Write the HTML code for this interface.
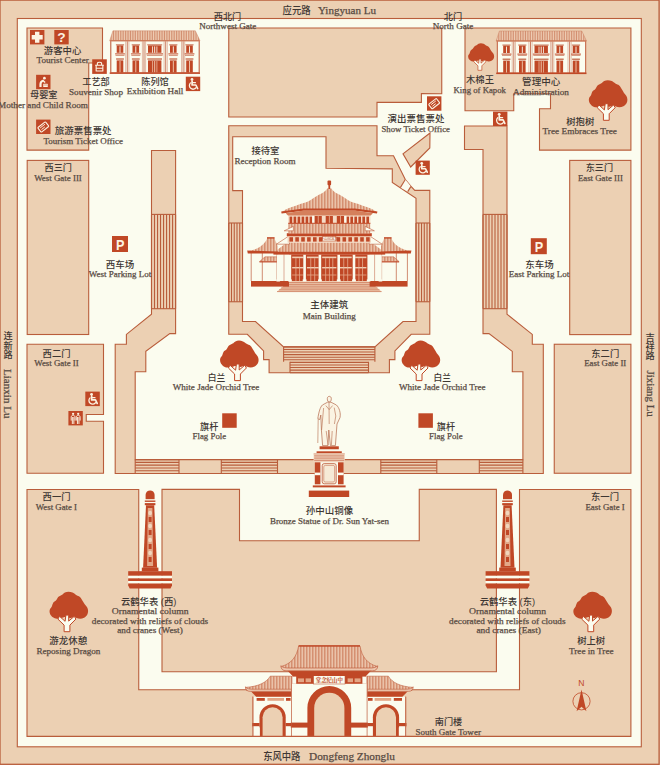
<!DOCTYPE html>
<html lang="zh"><head><meta charset="utf-8"><title>Map</title>
<style>
html,body{margin:0;padding:0;background:#ecd0b3;}
svg{display:block}
text.c{font-family:"Liberation Sans","Noto Sans CJK SC",sans-serif;font-weight:500;text-anchor:middle}
text.l{font-family:"Liberation Serif","Noto Serif CJK SC",serif;text-anchor:middle;stroke:#574a42;stroke-width:0.25px}
</style></head><body>
<svg width="660" height="765" viewBox="0 0 660 765">
<rect x="0" y="0" width="660" height="765" fill="#ecd0b3"/>
<rect x="0.00" y="0.10" width="659.10" height="764.20" fill="none" stroke="#b95d3b" stroke-width="1.3"/>
<rect x="17.30" y="18.50" width="624.00" height="728.30" fill="#fbfcef" stroke="#b95d3b" stroke-width="1.1"/>
<path d="M27.00 28.00 L102.50 28.00 L102.50 63.00 L88.75 63.00 L88.70 150.10 L27.00 150.10Z" fill="#ecd0b3" stroke="#b95d3b" stroke-width="1.1" />
<rect x="27.20" y="160.40" width="61.50" height="174.10" fill="#ecd0b3" stroke="#b95d3b" stroke-width="1.1"/>
<path d="M27.00 344.25 L103.50 344.25 L103.50 414.50 L86.25 414.50 L86.25 421.25 L103.50 421.25 L103.50 473.25 L27.00 473.25Z" fill="#ecd0b3" stroke="#b95d3b" stroke-width="1.1" />
<path d="M27.00 489.50 L138.75 489.50 L138.75 689.80 L519.50 689.80 L519.50 489.50 L630.90 489.50 L630.90 736.40 L27.00 736.40Z" fill="#ecd0b3" stroke="#b95d3b" stroke-width="1.1" />
<path d="M162.00 489.40 L239.50 489.40 L239.50 540.75 L419.25 540.75 L419.25 489.40 L496.40 489.40 L496.40 671.70 L162.00 671.70Z" fill="#ecd0b3" stroke="#b95d3b" stroke-width="1.1" />
<path d="M228.75 28.00 L441.75 28.00 L441.75 93.75 L421.40 93.50 L421.40 102.40 L377.00 102.40 L377.00 116.90 L228.75 117.00Z" fill="#ecd0b3" stroke="#b95d3b" stroke-width="1.1" />
<path d="M465.00 28.00 L630.90 28.00 L630.90 150.10 L539.50 150.10 L539.50 108.75 L550.50 108.75 L550.50 93.75 L513.75 93.75 L513.75 110.75 L465.00 110.75Z" fill="#ecd0b3" stroke="#b95d3b" stroke-width="1.1" />
<rect x="569.70" y="160.40" width="61.20" height="174.20" fill="#ecd0b3" stroke="#b95d3b" stroke-width="1.1"/>
<rect x="554.25" y="344.25" width="76.65" height="129.00" fill="#ecd0b3" stroke="#b95d3b" stroke-width="1.1"/>
<path d="M151.50 150.50 L151.50 314.20 L126.40 334.40 L126.40 344.20 L115.20 344.20 L115.20 473.50 L543.30 473.50 L543.30 344.20 L532.30 344.20 L532.30 334.40 L507.00 314.20 L507.00 126.00 L464.50 126.00 L464.50 149.50 L483.00 149.50 L483.00 333.60 L489.00 333.60 L512.30 351.40 L512.30 371.70 L522.90 371.70 L522.90 459.60 L135.20 459.60 L135.20 371.70 L145.80 371.70 L145.80 351.40 L169.80 333.60 L175.60 333.60 L175.60 150.50Z" fill="#ecd0b3" stroke="#b95d3b" stroke-width="1.1" />
<line x1="151.50" y1="214.40" x2="151.50" y2="308.70" stroke="#b95d3b" stroke-width="1.1"/>
<line x1="154.51" y1="214.40" x2="154.51" y2="308.70" stroke="#b95d3b" stroke-width="1.1"/>
<line x1="157.53" y1="214.40" x2="157.53" y2="308.70" stroke="#b95d3b" stroke-width="1.1"/>
<line x1="160.54" y1="214.40" x2="160.54" y2="308.70" stroke="#b95d3b" stroke-width="1.1"/>
<line x1="163.55" y1="214.40" x2="163.55" y2="308.70" stroke="#b95d3b" stroke-width="1.1"/>
<line x1="166.56" y1="214.40" x2="166.56" y2="308.70" stroke="#b95d3b" stroke-width="1.1"/>
<line x1="169.57" y1="214.40" x2="169.57" y2="308.70" stroke="#b95d3b" stroke-width="1.1"/>
<line x1="172.59" y1="214.40" x2="172.59" y2="308.70" stroke="#b95d3b" stroke-width="1.1"/>
<line x1="175.60" y1="214.40" x2="175.60" y2="308.70" stroke="#b95d3b" stroke-width="1.1"/>
<line x1="151.50" y1="214.40" x2="175.60" y2="214.40" stroke="#b95d3b" stroke-width="1.1"/>
<line x1="151.50" y1="308.70" x2="175.60" y2="308.70" stroke="#b95d3b" stroke-width="1.1"/>
<line x1="483.00" y1="214.40" x2="483.00" y2="308.70" stroke="#b95d3b" stroke-width="1.1"/>
<line x1="486.00" y1="214.40" x2="486.00" y2="308.70" stroke="#b95d3b" stroke-width="1.1"/>
<line x1="489.00" y1="214.40" x2="489.00" y2="308.70" stroke="#b95d3b" stroke-width="1.1"/>
<line x1="492.00" y1="214.40" x2="492.00" y2="308.70" stroke="#b95d3b" stroke-width="1.1"/>
<line x1="495.00" y1="214.40" x2="495.00" y2="308.70" stroke="#b95d3b" stroke-width="1.1"/>
<line x1="498.00" y1="214.40" x2="498.00" y2="308.70" stroke="#b95d3b" stroke-width="1.1"/>
<line x1="501.00" y1="214.40" x2="501.00" y2="308.70" stroke="#b95d3b" stroke-width="1.1"/>
<line x1="504.00" y1="214.40" x2="504.00" y2="308.70" stroke="#b95d3b" stroke-width="1.1"/>
<line x1="507.00" y1="214.40" x2="507.00" y2="308.70" stroke="#b95d3b" stroke-width="1.1"/>
<line x1="483.00" y1="214.40" x2="507.00" y2="214.40" stroke="#b95d3b" stroke-width="1.1"/>
<line x1="483.00" y1="308.70" x2="507.00" y2="308.70" stroke="#b95d3b" stroke-width="1.1"/>
<line x1="135.20" y1="459.60" x2="179.00" y2="459.60" stroke="#b95d3b" stroke-width="1.1"/>
<line x1="135.20" y1="462.38" x2="179.00" y2="462.38" stroke="#b95d3b" stroke-width="1.1"/>
<line x1="135.20" y1="465.16" x2="179.00" y2="465.16" stroke="#b95d3b" stroke-width="1.1"/>
<line x1="135.20" y1="467.94" x2="179.00" y2="467.94" stroke="#b95d3b" stroke-width="1.1"/>
<line x1="135.20" y1="470.72" x2="179.00" y2="470.72" stroke="#b95d3b" stroke-width="1.1"/>
<line x1="135.20" y1="473.50" x2="179.00" y2="473.50" stroke="#b95d3b" stroke-width="1.1"/>
<line x1="135.20" y1="459.60" x2="135.20" y2="473.50" stroke="#b95d3b" stroke-width="1.1"/>
<line x1="179.00" y1="459.60" x2="179.00" y2="473.50" stroke="#b95d3b" stroke-width="1.1"/>
<line x1="221.30" y1="459.60" x2="277.50" y2="459.60" stroke="#b95d3b" stroke-width="1.1"/>
<line x1="221.30" y1="462.38" x2="277.50" y2="462.38" stroke="#b95d3b" stroke-width="1.1"/>
<line x1="221.30" y1="465.16" x2="277.50" y2="465.16" stroke="#b95d3b" stroke-width="1.1"/>
<line x1="221.30" y1="467.94" x2="277.50" y2="467.94" stroke="#b95d3b" stroke-width="1.1"/>
<line x1="221.30" y1="470.72" x2="277.50" y2="470.72" stroke="#b95d3b" stroke-width="1.1"/>
<line x1="221.30" y1="473.50" x2="277.50" y2="473.50" stroke="#b95d3b" stroke-width="1.1"/>
<line x1="221.30" y1="459.60" x2="221.30" y2="473.50" stroke="#b95d3b" stroke-width="1.1"/>
<line x1="277.50" y1="459.60" x2="277.50" y2="473.50" stroke="#b95d3b" stroke-width="1.1"/>
<line x1="380.80" y1="459.60" x2="436.80" y2="459.60" stroke="#b95d3b" stroke-width="1.1"/>
<line x1="380.80" y1="462.38" x2="436.80" y2="462.38" stroke="#b95d3b" stroke-width="1.1"/>
<line x1="380.80" y1="465.16" x2="436.80" y2="465.16" stroke="#b95d3b" stroke-width="1.1"/>
<line x1="380.80" y1="467.94" x2="436.80" y2="467.94" stroke="#b95d3b" stroke-width="1.1"/>
<line x1="380.80" y1="470.72" x2="436.80" y2="470.72" stroke="#b95d3b" stroke-width="1.1"/>
<line x1="380.80" y1="473.50" x2="436.80" y2="473.50" stroke="#b95d3b" stroke-width="1.1"/>
<line x1="380.80" y1="459.60" x2="380.80" y2="473.50" stroke="#b95d3b" stroke-width="1.1"/>
<line x1="436.80" y1="459.60" x2="436.80" y2="473.50" stroke="#b95d3b" stroke-width="1.1"/>
<line x1="479.30" y1="459.60" x2="522.90" y2="459.60" stroke="#b95d3b" stroke-width="1.1"/>
<line x1="479.30" y1="462.38" x2="522.90" y2="462.38" stroke="#b95d3b" stroke-width="1.1"/>
<line x1="479.30" y1="465.16" x2="522.90" y2="465.16" stroke="#b95d3b" stroke-width="1.1"/>
<line x1="479.30" y1="467.94" x2="522.90" y2="467.94" stroke="#b95d3b" stroke-width="1.1"/>
<line x1="479.30" y1="470.72" x2="522.90" y2="470.72" stroke="#b95d3b" stroke-width="1.1"/>
<line x1="479.30" y1="473.50" x2="522.90" y2="473.50" stroke="#b95d3b" stroke-width="1.1"/>
<line x1="479.30" y1="459.60" x2="479.30" y2="473.50" stroke="#b95d3b" stroke-width="1.1"/>
<line x1="522.90" y1="459.60" x2="522.90" y2="473.50" stroke="#b95d3b" stroke-width="1.1"/>
<path d="M228.75 125.75 L377.00 125.75 L377.00 155.75 L393.50 155.75 L405.30 179.50 L411.00 186.40 L414.80 190.40 L429.80 190.40 L429.80 334.25 L411.20 334.25 L394.90 350.90 L394.90 359.60 L389.40 359.60 L389.40 372.70 L269.10 372.70 L269.10 359.60 L263.60 359.60 L263.60 350.90 L247.30 334.25 L228.75 334.25Z M232.70 136.70 L326.00 136.70 L326.00 168.30 L392.30 168.90 L392.30 182.50 L416.00 198.30 L416.00 321.50 L403.00 321.50 L374.90 346.90 L283.60 346.90 L255.50 321.50 L242.50 321.50 L242.50 190.60 L232.70 190.60Z" fill="#ecd0b3" stroke="#b95d3b" stroke-width="1.1" fill-rule="evenodd"/>
<path d="M405.30 179.50 L411.00 186.40 L407.70 191.60 L400.30 187.60Z" fill="#fbfcef" stroke="none" stroke-width="1.1" />
<line x1="405.30" y1="179.50" x2="400.30" y2="187.60" stroke="#b95d3b" stroke-width="1.1"/>
<line x1="411.00" y1="186.40" x2="407.70" y2="191.60" stroke="#b95d3b" stroke-width="1.1"/>
<line x1="228.75" y1="223.00" x2="228.75" y2="301.75" stroke="#b95d3b" stroke-width="1.1"/>
<line x1="231.50" y1="223.00" x2="231.50" y2="301.75" stroke="#b95d3b" stroke-width="1.1"/>
<line x1="234.25" y1="223.00" x2="234.25" y2="301.75" stroke="#b95d3b" stroke-width="1.1"/>
<line x1="237.00" y1="223.00" x2="237.00" y2="301.75" stroke="#b95d3b" stroke-width="1.1"/>
<line x1="239.75" y1="223.00" x2="239.75" y2="301.75" stroke="#b95d3b" stroke-width="1.1"/>
<line x1="242.50" y1="223.00" x2="242.50" y2="301.75" stroke="#b95d3b" stroke-width="1.1"/>
<line x1="228.75" y1="223.00" x2="242.50" y2="223.00" stroke="#b95d3b" stroke-width="1.1"/>
<line x1="228.75" y1="301.75" x2="242.50" y2="301.75" stroke="#b95d3b" stroke-width="1.1"/>
<line x1="416.00" y1="223.00" x2="416.00" y2="301.75" stroke="#b95d3b" stroke-width="1.1"/>
<line x1="418.76" y1="223.00" x2="418.76" y2="301.75" stroke="#b95d3b" stroke-width="1.1"/>
<line x1="421.52" y1="223.00" x2="421.52" y2="301.75" stroke="#b95d3b" stroke-width="1.1"/>
<line x1="424.28" y1="223.00" x2="424.28" y2="301.75" stroke="#b95d3b" stroke-width="1.1"/>
<line x1="427.04" y1="223.00" x2="427.04" y2="301.75" stroke="#b95d3b" stroke-width="1.1"/>
<line x1="429.80" y1="223.00" x2="429.80" y2="301.75" stroke="#b95d3b" stroke-width="1.1"/>
<line x1="416.00" y1="223.00" x2="429.80" y2="223.00" stroke="#b95d3b" stroke-width="1.1"/>
<line x1="416.00" y1="301.75" x2="429.80" y2="301.75" stroke="#b95d3b" stroke-width="1.1"/>
<line x1="283.60" y1="346.90" x2="374.90" y2="346.90" stroke="#b95d3b" stroke-width="1.1"/>
<line x1="283.60" y1="349.48" x2="374.90" y2="349.48" stroke="#b95d3b" stroke-width="1.1"/>
<line x1="283.60" y1="352.06" x2="374.90" y2="352.06" stroke="#b95d3b" stroke-width="1.1"/>
<line x1="283.60" y1="354.64" x2="374.90" y2="354.64" stroke="#b95d3b" stroke-width="1.1"/>
<line x1="283.60" y1="357.22" x2="374.90" y2="357.22" stroke="#b95d3b" stroke-width="1.1"/>
<line x1="283.60" y1="359.80" x2="374.90" y2="359.80" stroke="#b95d3b" stroke-width="1.1"/>
<line x1="290.00" y1="362.38" x2="368.50" y2="362.38" stroke="#b95d3b" stroke-width="1.1"/>
<line x1="290.00" y1="364.96" x2="368.50" y2="364.96" stroke="#b95d3b" stroke-width="1.1"/>
<line x1="290.00" y1="367.54" x2="368.50" y2="367.54" stroke="#b95d3b" stroke-width="1.1"/>
<line x1="290.00" y1="370.12" x2="368.50" y2="370.12" stroke="#b95d3b" stroke-width="1.1"/>
<line x1="290.00" y1="372.70" x2="368.50" y2="372.70" stroke="#b95d3b" stroke-width="1.1"/>
<line x1="283.60" y1="346.90" x2="283.60" y2="361.80" stroke="#b95d3b" stroke-width="1.1"/>
<line x1="290.00" y1="361.80" x2="290.00" y2="372.70" stroke="#b95d3b" stroke-width="1.1"/>
<line x1="374.90" y1="346.90" x2="374.90" y2="361.80" stroke="#b95d3b" stroke-width="1.1"/>
<line x1="368.50" y1="361.80" x2="368.50" y2="372.70" stroke="#b95d3b" stroke-width="1.1"/>
<path d="M430.00 133.00 L403.00 153.80 L410.70 167.00 L429.80 148.00Z" fill="#ecd0b3" stroke="#b95d3b" stroke-width="1.1" />
<defs>
<pattern id="vh" width="1.7" height="4" patternUnits="userSpaceOnUse"><rect width="1.7" height="4" fill="#efceb5"/><rect x="0" width="0.65" height="4" fill="#c97a5a"/></pattern>
<pattern id="vh2" width="1.5" height="4" patternUnits="userSpaceOnUse"><rect width="1.5" height="4" fill="#efcfb7"/><rect x="0" width="0.6" height="4" fill="#c9704e"/></pattern>
</defs>
<rect x="30.00" y="30.00" width="14.40" height="14.40" fill="#c04826"/>
<g transform="translate(30.00,30.00) scale(1.0000)">
<path d="M5.0 1.7h4.4v3.3h3.3v4.4h-3.3v3.3h-4.4v-3.3h-3.3v-4.4h3.3z" fill="#fcf3e2"/></g>
<rect x="54.30" y="30.00" width="14.40" height="14.40" fill="#c04826"/>
<text x="61.50" y="42.38" font-family="Liberation Sans,sans-serif" font-weight="700" font-size="13.7" fill="#fcf3e2" text-anchor="middle">?</text>
<rect x="36.10" y="74.80" width="14.40" height="14.40" fill="#c04826"/>
<g transform="translate(36.10,74.80) scale(1.0000)">
<circle cx="8.3" cy="3.4" r="1.35" fill="#fcf3e2"/>
<path d="M7.2 4.6c-2.6 0.6-3.9 2.6-3.9 5v2.6h2.2v-2.4c0-1.4 0.5-2.3 1.5-2.8l1.6 1.1 0.9-0.9-1.6-1.6z" fill="#fcf3e2"/>
<rect x="7.1" y="8.9" width="4.6" height="3.4" rx="0.5" fill="#fcf3e2"/>
<path d="M7.3 10.2h4.2" stroke="#c04826" stroke-width="0.5"/>
</g>
<rect x="36.10" y="119.60" width="14.40" height="14.40" fill="#c04826"/>
<g transform="translate(36.10,119.60) scale(1.0000)">
<g transform="translate(7.2,7.4) rotate(-38)" fill="none" stroke="#fcf3e2" stroke-linejoin="round">
<rect x="-4.9" y="-2.9" width="9.8" height="5.8" rx="0.8" stroke-width="1.1"/>
<path d="M-3 -1.2h6M-3 0.9h4.2" stroke-width="0.9"/>
</g></g>
<rect x="92.20" y="59.30" width="14.60" height="14.60" fill="#c04826"/>
<g transform="translate(92.20,59.30) scale(1.0139)">
<g fill="none" stroke="#fcf3e2" stroke-width="1.1" stroke-linejoin="round">
<path d="M5.1 5.7V4.1c0-1.5 4.2-1.5 4.2 0v1.6"/>
<path d="M2.9 5.9h8.6M3.9 6.2v5.4h6.6V6.2M4.2 8.8h6"/>
</g></g>
<rect x="185.80" y="76.70" width="14.40" height="14.40" fill="#c04826"/>
<g transform="translate(185.80,76.70) scale(1.0000)">
<circle cx="6.2" cy="2.7" r="1.4" fill="#fcf3e2"/>
<path d="M6.3 4.3V8.3H10.1L11.8 11.8" fill="none" stroke="#fcf3e2" stroke-width="1.7" stroke-linejoin="round" stroke-linecap="round"/>
<path d="M6.5 6.0H9.6" fill="none" stroke="#fcf3e2" stroke-width="1.3" stroke-linecap="round"/>
<path d="M4.7 6.2A3.7 3.7 0 1 0 10.3 11.0" fill="none" stroke="#fcf3e2" stroke-width="1.3" stroke-linecap="round"/></g>
<rect x="427.00" y="96.30" width="14.40" height="14.40" fill="#c04826"/>
<g transform="translate(427.00,96.30) scale(1.0000)">
<g transform="translate(7.2,7.4) rotate(-38)" fill="none" stroke="#fcf3e2" stroke-linejoin="round">
<rect x="-4.9" y="-2.9" width="9.8" height="5.8" rx="0.8" stroke-width="1.1"/>
<path d="M-3 -1.2h6M-3 0.9h4.2" stroke-width="0.9"/>
</g></g>
<rect x="415.60" y="160.60" width="14.20" height="14.20" fill="#c04826"/>
<g transform="translate(415.60,160.60) scale(0.9861)">
<circle cx="6.2" cy="2.7" r="1.4" fill="#fcf3e2"/>
<path d="M6.3 4.3V8.3H10.1L11.8 11.8" fill="none" stroke="#fcf3e2" stroke-width="1.7" stroke-linejoin="round" stroke-linecap="round"/>
<path d="M6.5 6.0H9.6" fill="none" stroke="#fcf3e2" stroke-width="1.3" stroke-linecap="round"/>
<path d="M4.7 6.2A3.7 3.7 0 1 0 10.3 11.0" fill="none" stroke="#fcf3e2" stroke-width="1.3" stroke-linecap="round"/></g>
<rect x="493.00" y="111.60" width="14.40" height="14.40" fill="#c04826"/>
<g transform="translate(493.00,111.60) scale(1.0000)">
<circle cx="6.2" cy="2.7" r="1.4" fill="#fcf3e2"/>
<path d="M6.3 4.3V8.3H10.1L11.8 11.8" fill="none" stroke="#fcf3e2" stroke-width="1.7" stroke-linejoin="round" stroke-linecap="round"/>
<path d="M6.5 6.0H9.6" fill="none" stroke="#fcf3e2" stroke-width="1.3" stroke-linecap="round"/>
<path d="M4.7 6.2A3.7 3.7 0 1 0 10.3 11.0" fill="none" stroke="#fcf3e2" stroke-width="1.3" stroke-linecap="round"/></g>
<rect x="112.00" y="236.00" width="16.00" height="16.00" fill="#c04826"/>
<text transform="translate(120.20,250.00) scale(0.88,1.08)" font-family="Liberation Sans,sans-serif" font-weight="700" font-size="14.4" fill="#fcf3e2" text-anchor="middle">P</text>
<rect x="530.80" y="238.20" width="16.00" height="16.00" fill="#c04826"/>
<text transform="translate(539.00,252.20) scale(0.88,1.08)" font-family="Liberation Sans,sans-serif" font-weight="700" font-size="14.4" fill="#fcf3e2" text-anchor="middle">P</text>
<rect x="85.30" y="391.60" width="14.50" height="14.50" fill="#c04826"/>
<g transform="translate(85.30,391.60) scale(1.0069)">
<circle cx="6.2" cy="2.7" r="1.4" fill="#fcf3e2"/>
<path d="M6.3 4.3V8.3H10.1L11.8 11.8" fill="none" stroke="#fcf3e2" stroke-width="1.7" stroke-linejoin="round" stroke-linecap="round"/>
<path d="M6.5 6.0H9.6" fill="none" stroke="#fcf3e2" stroke-width="1.3" stroke-linecap="round"/>
<path d="M4.7 6.2A3.7 3.7 0 1 0 10.3 11.0" fill="none" stroke="#fcf3e2" stroke-width="1.3" stroke-linecap="round"/></g>
<rect x="68.40" y="411.00" width="14.40" height="14.40" fill="#c04826"/>
<g transform="translate(68.40,411.00) scale(1.0000)">
<circle cx="4.7" cy="2.8" r="1.15" fill="#fcf3e2"/>
<path d="M2.80 9.2V6.2C2.80 3.6 6.60 3.6 6.60 6.2V9.2" fill="none" stroke="#fcf3e2" stroke-width="0.95" stroke-linecap="round"/>
<path d="M3.95 6.4V12.6M5.45 6.4V12.6" fill="none" stroke="#fcf3e2" stroke-width="0.95" stroke-linecap="round"/>
<circle cx="9.8" cy="2.8" r="1.15" fill="#fcf3e2"/>
<path d="M7.90 9.2V6.2C7.90 3.6 11.70 3.6 11.70 6.2V9.2" fill="none" stroke="#fcf3e2" stroke-width="0.95" stroke-linecap="round"/>
<path d="M9.05 6.4V12.6M10.55 6.4V12.6" fill="none" stroke="#fcf3e2" stroke-width="0.95" stroke-linecap="round"/>
</g>
<rect x="222.20" y="413.30" width="14.50" height="14.50" fill="#c04826"/>
<rect x="418.40" y="413.30" width="14.50" height="14.50" fill="#c04826"/>
<g transform="translate(239.00,340.60) scale(1.000)">
<path d="M0.0 0.0C1.3 0.0 2.7 0.3 4.0 0.8C5.3 1.3 6.4 2.5 7.6 3.2C8.8 3.9 10.3 4.2 11.4 5.2C12.5 6.2 13.2 7.8 14.0 9.0C14.8 10.2 15.4 11.5 16.2 12.6C17.0 13.7 18.0 14.5 18.6 15.6C19.2 16.7 19.6 18.1 19.6 19.4C19.6 20.7 19.3 22.1 18.6 23.2C17.9 24.3 16.8 25.4 15.6 26.0C14.4 26.6 12.8 27.0 11.6 27.0C10.4 27.0 9.2 26.5 8.2 26.2C7.2 25.9 6.5 25.2 5.4 25.2C4.3 25.2 2.9 26.4 1.5 26.4C0.1 26.4 -1.7 25.4 -3.2 25.4C-4.7 25.4 -6.0 26.1 -7.4 26.4C-8.8 26.7 -10.2 27.1 -11.6 27.0C-13.0 26.9 -14.5 26.4 -15.6 25.6C-16.7 24.8 -17.9 23.4 -18.4 22.2C-18.9 21.0 -19.1 19.4 -18.8 18.2C-18.5 17.0 -17.4 16.2 -16.8 15.0C-16.2 13.8 -16.1 12.3 -15.4 11.2C-14.7 10.1 -13.3 9.6 -12.4 8.6C-11.5 7.6 -11.0 5.9 -10.0 5.0C-9.0 4.1 -7.5 3.7 -6.4 3.0C-5.3 2.3 -4.7 1.3 -3.6 0.8C-2.5 0.3 -1.3 0.0 0.0 0.0Z" fill="#c04826"/>
<path d="M-4.4 40V33.4L-10.6 27.4L-9 24.6L-3.4 29.6L-2.6 23.4H0.2V29.4L5.8 24.6L7.4 27.4L1.4 33.4V40Z" fill="#fbfcef" stroke="#c04826" stroke-width="1"/>
</g>
<g transform="translate(420.60,340.60) scale(1.000)">
<path d="M0.0 0.0C1.3 0.0 2.7 0.3 4.0 0.8C5.3 1.3 6.4 2.5 7.6 3.2C8.8 3.9 10.3 4.2 11.4 5.2C12.5 6.2 13.2 7.8 14.0 9.0C14.8 10.2 15.4 11.5 16.2 12.6C17.0 13.7 18.0 14.5 18.6 15.6C19.2 16.7 19.6 18.1 19.6 19.4C19.6 20.7 19.3 22.1 18.6 23.2C17.9 24.3 16.8 25.4 15.6 26.0C14.4 26.6 12.8 27.0 11.6 27.0C10.4 27.0 9.2 26.5 8.2 26.2C7.2 25.9 6.5 25.2 5.4 25.2C4.3 25.2 2.9 26.4 1.5 26.4C0.1 26.4 -1.7 25.4 -3.2 25.4C-4.7 25.4 -6.0 26.1 -7.4 26.4C-8.8 26.7 -10.2 27.1 -11.6 27.0C-13.0 26.9 -14.5 26.4 -15.6 25.6C-16.7 24.8 -17.9 23.4 -18.4 22.2C-18.9 21.0 -19.1 19.4 -18.8 18.2C-18.5 17.0 -17.4 16.2 -16.8 15.0C-16.2 13.8 -16.1 12.3 -15.4 11.2C-14.7 10.1 -13.3 9.6 -12.4 8.6C-11.5 7.6 -11.0 5.9 -10.0 5.0C-9.0 4.1 -7.5 3.7 -6.4 3.0C-5.3 2.3 -4.7 1.3 -3.6 0.8C-2.5 0.3 -1.3 0.0 0.0 0.0Z" fill="#c04826"/>
<path d="M-4.4 40V33.4L-10.6 27.4L-9 24.6L-3.4 29.6L-2.6 23.4H0.2V29.4L5.8 24.6L7.4 27.4L1.4 33.4V40Z" fill="#fbfcef" stroke="#c04826" stroke-width="1"/>
</g>
<g transform="translate(68.50,591.70) scale(1.000)">
<path d="M0.0 0.0C1.3 0.0 2.7 0.3 4.0 0.8C5.3 1.3 6.4 2.5 7.6 3.2C8.8 3.9 10.3 4.2 11.4 5.2C12.5 6.2 13.2 7.8 14.0 9.0C14.8 10.2 15.4 11.5 16.2 12.6C17.0 13.7 18.0 14.5 18.6 15.6C19.2 16.7 19.6 18.1 19.6 19.4C19.6 20.7 19.3 22.1 18.6 23.2C17.9 24.3 16.8 25.4 15.6 26.0C14.4 26.6 12.8 27.0 11.6 27.0C10.4 27.0 9.2 26.5 8.2 26.2C7.2 25.9 6.5 25.2 5.4 25.2C4.3 25.2 2.9 26.4 1.5 26.4C0.1 26.4 -1.7 25.4 -3.2 25.4C-4.7 25.4 -6.0 26.1 -7.4 26.4C-8.8 26.7 -10.2 27.1 -11.6 27.0C-13.0 26.9 -14.5 26.4 -15.6 25.6C-16.7 24.8 -17.9 23.4 -18.4 22.2C-18.9 21.0 -19.1 19.4 -18.8 18.2C-18.5 17.0 -17.4 16.2 -16.8 15.0C-16.2 13.8 -16.1 12.3 -15.4 11.2C-14.7 10.1 -13.3 9.6 -12.4 8.6C-11.5 7.6 -11.0 5.9 -10.0 5.0C-9.0 4.1 -7.5 3.7 -6.4 3.0C-5.3 2.3 -4.7 1.3 -3.6 0.8C-2.5 0.3 -1.3 0.0 0.0 0.0Z" fill="#c04826"/>
<path d="M-4.4 40V33.4L-10.6 27.4L-9 24.6L-3.4 29.6L-2.6 23.4H0.2V29.4L5.8 24.6L7.4 27.4L1.4 33.4V40Z" fill="#fbfcef" stroke="#c04826" stroke-width="1"/>
</g>
<g transform="translate(592.30,591.70) scale(1.000)">
<path d="M0.0 0.0C1.3 0.0 2.7 0.3 4.0 0.8C5.3 1.3 6.4 2.5 7.6 3.2C8.8 3.9 10.3 4.2 11.4 5.2C12.5 6.2 13.2 7.8 14.0 9.0C14.8 10.2 15.4 11.5 16.2 12.6C17.0 13.7 18.0 14.5 18.6 15.6C19.2 16.7 19.6 18.1 19.6 19.4C19.6 20.7 19.3 22.1 18.6 23.2C17.9 24.3 16.8 25.4 15.6 26.0C14.4 26.6 12.8 27.0 11.6 27.0C10.4 27.0 9.2 26.5 8.2 26.2C7.2 25.9 6.5 25.2 5.4 25.2C4.3 25.2 2.9 26.4 1.5 26.4C0.1 26.4 -1.7 25.4 -3.2 25.4C-4.7 25.4 -6.0 26.1 -7.4 26.4C-8.8 26.7 -10.2 27.1 -11.6 27.0C-13.0 26.9 -14.5 26.4 -15.6 25.6C-16.7 24.8 -17.9 23.4 -18.4 22.2C-18.9 21.0 -19.1 19.4 -18.8 18.2C-18.5 17.0 -17.4 16.2 -16.8 15.0C-16.2 13.8 -16.1 12.3 -15.4 11.2C-14.7 10.1 -13.3 9.6 -12.4 8.6C-11.5 7.6 -11.0 5.9 -10.0 5.0C-9.0 4.1 -7.5 3.7 -6.4 3.0C-5.3 2.3 -4.7 1.3 -3.6 0.8C-2.5 0.3 -1.3 0.0 0.0 0.0Z" fill="#c04826"/>
<path d="M-4.4 40V33.4L-10.6 27.4L-9 24.6L-3.4 29.6L-2.6 23.4H0.2V29.4L5.8 24.6L7.4 27.4L1.4 33.4V40Z" fill="#fbfcef" stroke="#c04826" stroke-width="1"/>
</g>
<g transform="translate(607.80,80.30) scale(1.000)">
<path d="M0.0 0.0C1.3 0.0 2.7 0.3 4.0 0.8C5.3 1.3 6.4 2.5 7.6 3.2C8.8 3.9 10.3 4.2 11.4 5.2C12.5 6.2 13.2 7.8 14.0 9.0C14.8 10.2 15.4 11.5 16.2 12.6C17.0 13.7 18.0 14.5 18.6 15.6C19.2 16.7 19.6 18.1 19.6 19.4C19.6 20.7 19.3 22.1 18.6 23.2C17.9 24.3 16.8 25.4 15.6 26.0C14.4 26.6 12.8 27.0 11.6 27.0C10.4 27.0 9.2 26.5 8.2 26.2C7.2 25.9 6.5 25.2 5.4 25.2C4.3 25.2 2.9 26.4 1.5 26.4C0.1 26.4 -1.7 25.4 -3.2 25.4C-4.7 25.4 -6.0 26.1 -7.4 26.4C-8.8 26.7 -10.2 27.1 -11.6 27.0C-13.0 26.9 -14.5 26.4 -15.6 25.6C-16.7 24.8 -17.9 23.4 -18.4 22.2C-18.9 21.0 -19.1 19.4 -18.8 18.2C-18.5 17.0 -17.4 16.2 -16.8 15.0C-16.2 13.8 -16.1 12.3 -15.4 11.2C-14.7 10.1 -13.3 9.6 -12.4 8.6C-11.5 7.6 -11.0 5.9 -10.0 5.0C-9.0 4.1 -7.5 3.7 -6.4 3.0C-5.3 2.3 -4.7 1.3 -3.6 0.8C-2.5 0.3 -1.3 0.0 0.0 0.0Z" fill="#c04826"/>
<path d="M-4.4 40V33.4L-10.6 27.4L-9 24.6L-3.4 29.6L-2.6 23.4H0.2V29.4L5.8 24.6L7.4 27.4L1.4 33.4V40Z" fill="#fbfcef" stroke="#c04826" stroke-width="1"/>
</g>
<g transform="translate(480.90,43.30) scale(0.675)">
<path d="M0.0 0.0C1.3 0.0 2.7 0.3 4.0 0.8C5.3 1.3 6.4 2.5 7.6 3.2C8.8 3.9 10.3 4.2 11.4 5.2C12.5 6.2 13.2 7.8 14.0 9.0C14.8 10.2 15.4 11.5 16.2 12.6C17.0 13.7 18.0 14.5 18.6 15.6C19.2 16.7 19.6 18.1 19.6 19.4C19.6 20.7 19.3 22.1 18.6 23.2C17.9 24.3 16.8 25.4 15.6 26.0C14.4 26.6 12.8 27.0 11.6 27.0C10.4 27.0 9.2 26.5 8.2 26.2C7.2 25.9 6.5 25.2 5.4 25.2C4.3 25.2 2.9 26.4 1.5 26.4C0.1 26.4 -1.7 25.4 -3.2 25.4C-4.7 25.4 -6.0 26.1 -7.4 26.4C-8.8 26.7 -10.2 27.1 -11.6 27.0C-13.0 26.9 -14.5 26.4 -15.6 25.6C-16.7 24.8 -17.9 23.4 -18.4 22.2C-18.9 21.0 -19.1 19.4 -18.8 18.2C-18.5 17.0 -17.4 16.2 -16.8 15.0C-16.2 13.8 -16.1 12.3 -15.4 11.2C-14.7 10.1 -13.3 9.6 -12.4 8.6C-11.5 7.6 -11.0 5.9 -10.0 5.0C-9.0 4.1 -7.5 3.7 -6.4 3.0C-5.3 2.3 -4.7 1.3 -3.6 0.8C-2.5 0.3 -1.3 0.0 0.0 0.0Z" fill="#c04826"/>
<path d="M-4.4 40V33.4L-10.6 27.4L-9 24.6L-3.4 29.6L-2.6 23.4H0.2V29.4L5.8 24.6L7.4 27.4L1.4 33.4V40Z" fill="#fbfcef" stroke="#c04826" stroke-width="1"/>
</g>
<g transform="translate(109.70,30.80)">
<path d="M3.2 0H85.6L90.3 10H0Z" fill="url(#vh)" stroke="#cf8566" stroke-width="0.5"/>
<rect x="1.1" y="10" width="88.4" height="31.8" fill="#fbfcef" stroke="#cf7f60" stroke-width="0.7"/>
<rect x="0.2" y="9.5" width="89.9" height="1.0" fill="#c9704e"/>
<line x1="1.1" y1="10.5" x2="1.1" y2="42" stroke="#bf5c3c" stroke-width="0.8"/>
<line x1="17.6" y1="10.5" x2="17.6" y2="42" stroke="#bf5c3c" stroke-width="0.8"/>
<line x1="34.3" y1="10.5" x2="34.3" y2="42" stroke="#bf5c3c" stroke-width="0.8"/>
<line x1="56.0" y1="10.5" x2="56.0" y2="42" stroke="#bf5c3c" stroke-width="0.8"/>
<line x1="73.4" y1="10.5" x2="73.4" y2="42" stroke="#bf5c3c" stroke-width="0.8"/>
<line x1="89.5" y1="10.5" x2="89.5" y2="42" stroke="#bf5c3c" stroke-width="0.8"/>
<line x1="16.0" y1="10.5" x2="16.0" y2="42" stroke="#bf5c3c" stroke-width="0.4"/>
<line x1="19.2" y1="10.5" x2="19.2" y2="42" stroke="#bf5c3c" stroke-width="0.4"/>
<line x1="32.7" y1="10.5" x2="32.7" y2="42" stroke="#bf5c3c" stroke-width="0.4"/>
<line x1="35.9" y1="10.5" x2="35.9" y2="42" stroke="#bf5c3c" stroke-width="0.4"/>
<line x1="54.4" y1="10.5" x2="54.4" y2="42" stroke="#bf5c3c" stroke-width="0.4"/>
<line x1="57.6" y1="10.5" x2="57.6" y2="42" stroke="#bf5c3c" stroke-width="0.4"/>
<line x1="71.8" y1="10.5" x2="71.8" y2="42" stroke="#bf5c3c" stroke-width="0.4"/>
<line x1="75.0" y1="10.5" x2="75.0" y2="42" stroke="#bf5c3c" stroke-width="0.4"/>
<rect x="7.00" y="14.6" width="6.60" height="7.4" fill="#c04826"/>
<rect x="9.85" y="15.6" width="0.9" height="6.4" fill="#fbfcef"/>
<rect x="6.20" y="13.6" width="8.20" height="0.9" fill="#bf5c3c"/>
<rect x="5.40" y="22.6" width="9.80" height="1.0" fill="#c04826"/>
<rect x="5.80" y="24.2" width="9.00" height="0.6" fill="#bf5c3c"/>
<rect x="6.40" y="27.6" width="7.80" height="1.2" fill="#bf5c3c"/>
<rect x="7.00" y="29.6" width="6.60" height="12.2" fill="#c04826"/>
<rect x="9.85" y="30.2" width="0.9" height="11.6" fill="#f1cdb2"/>
<rect x="22.80" y="14.6" width="6.60" height="7.4" fill="#c04826"/>
<rect x="25.65" y="15.6" width="0.9" height="6.4" fill="#fbfcef"/>
<rect x="22.00" y="13.6" width="8.20" height="0.9" fill="#bf5c3c"/>
<rect x="21.20" y="22.6" width="9.80" height="1.0" fill="#c04826"/>
<rect x="21.60" y="24.2" width="9.00" height="0.6" fill="#bf5c3c"/>
<rect x="22.20" y="27.6" width="7.80" height="1.2" fill="#bf5c3c"/>
<rect x="22.80" y="29.6" width="6.60" height="12.2" fill="#c04826"/>
<rect x="25.65" y="30.2" width="0.9" height="11.6" fill="#f1cdb2"/>
<rect x="38.30" y="14.6" width="13.40" height="7.4" fill="#c04826"/>
<rect x="42.40" y="15.6" width="0.8" height="6.4" fill="#fbfcef"/>
<rect x="46.80" y="15.6" width="0.8" height="6.4" fill="#fbfcef"/>
<rect x="44.55" y="15.6" width="0.9" height="6.4" fill="#fbfcef"/>
<rect x="37.50" y="13.6" width="15.00" height="0.9" fill="#bf5c3c"/>
<rect x="36.70" y="22.6" width="16.60" height="1.0" fill="#c04826"/>
<rect x="37.10" y="24.2" width="15.80" height="0.6" fill="#bf5c3c"/>
<rect x="37.70" y="27.6" width="14.60" height="1.2" fill="#bf5c3c"/>
<rect x="38.30" y="29.6" width="13.40" height="12.2" fill="#c04826"/>
<rect x="42.40" y="30.2" width="0.8" height="11.6" fill="#e9b79b"/>
<rect x="46.80" y="30.2" width="0.8" height="11.6" fill="#e9b79b"/>
<rect x="44.55" y="30.2" width="0.9" height="11.6" fill="#f1cdb2"/>
<rect x="60.30" y="14.6" width="6.60" height="7.4" fill="#c04826"/>
<rect x="63.15" y="15.6" width="0.9" height="6.4" fill="#fbfcef"/>
<rect x="59.50" y="13.6" width="8.20" height="0.9" fill="#bf5c3c"/>
<rect x="58.70" y="22.6" width="9.80" height="1.0" fill="#c04826"/>
<rect x="59.10" y="24.2" width="9.00" height="0.6" fill="#bf5c3c"/>
<rect x="59.70" y="27.6" width="7.80" height="1.2" fill="#bf5c3c"/>
<rect x="60.30" y="29.6" width="6.60" height="12.2" fill="#c04826"/>
<rect x="63.15" y="30.2" width="0.9" height="11.6" fill="#f1cdb2"/>
<rect x="76.50" y="14.6" width="6.60" height="7.4" fill="#c04826"/>
<rect x="79.35" y="15.6" width="0.9" height="6.4" fill="#fbfcef"/>
<rect x="75.70" y="13.6" width="8.20" height="0.9" fill="#bf5c3c"/>
<rect x="74.90" y="22.6" width="9.80" height="1.0" fill="#c04826"/>
<rect x="75.30" y="24.2" width="9.00" height="0.6" fill="#bf5c3c"/>
<rect x="75.90" y="27.6" width="7.80" height="1.2" fill="#bf5c3c"/>
<rect x="76.50" y="29.6" width="6.60" height="12.2" fill="#c04826"/>
<rect x="79.35" y="30.2" width="0.9" height="11.6" fill="#f1cdb2"/>
<rect x="0" y="41.6" width="90.3" height="1.5" fill="#c04826"/>
</g>
<g transform="translate(496.20,31.00)">
<path d="M3.2 0H85.6L90.3 10H0Z" fill="url(#vh)" stroke="#cf8566" stroke-width="0.5"/>
<rect x="1.1" y="10" width="88.4" height="31.8" fill="#fbfcef" stroke="#cf7f60" stroke-width="0.7"/>
<rect x="0.2" y="9.5" width="89.9" height="1.0" fill="#c9704e"/>
<line x1="1.1" y1="10.5" x2="1.1" y2="42" stroke="#bf5c3c" stroke-width="0.8"/>
<line x1="17.6" y1="10.5" x2="17.6" y2="42" stroke="#bf5c3c" stroke-width="0.8"/>
<line x1="34.3" y1="10.5" x2="34.3" y2="42" stroke="#bf5c3c" stroke-width="0.8"/>
<line x1="56.0" y1="10.5" x2="56.0" y2="42" stroke="#bf5c3c" stroke-width="0.8"/>
<line x1="73.4" y1="10.5" x2="73.4" y2="42" stroke="#bf5c3c" stroke-width="0.8"/>
<line x1="89.5" y1="10.5" x2="89.5" y2="42" stroke="#bf5c3c" stroke-width="0.8"/>
<line x1="16.0" y1="10.5" x2="16.0" y2="42" stroke="#bf5c3c" stroke-width="0.4"/>
<line x1="19.2" y1="10.5" x2="19.2" y2="42" stroke="#bf5c3c" stroke-width="0.4"/>
<line x1="32.7" y1="10.5" x2="32.7" y2="42" stroke="#bf5c3c" stroke-width="0.4"/>
<line x1="35.9" y1="10.5" x2="35.9" y2="42" stroke="#bf5c3c" stroke-width="0.4"/>
<line x1="54.4" y1="10.5" x2="54.4" y2="42" stroke="#bf5c3c" stroke-width="0.4"/>
<line x1="57.6" y1="10.5" x2="57.6" y2="42" stroke="#bf5c3c" stroke-width="0.4"/>
<line x1="71.8" y1="10.5" x2="71.8" y2="42" stroke="#bf5c3c" stroke-width="0.4"/>
<line x1="75.0" y1="10.5" x2="75.0" y2="42" stroke="#bf5c3c" stroke-width="0.4"/>
<rect x="7.00" y="14.6" width="6.60" height="7.4" fill="#c04826"/>
<rect x="9.85" y="15.6" width="0.9" height="6.4" fill="#fbfcef"/>
<rect x="6.20" y="13.6" width="8.20" height="0.9" fill="#bf5c3c"/>
<rect x="5.40" y="22.6" width="9.80" height="1.0" fill="#c04826"/>
<rect x="5.80" y="24.2" width="9.00" height="0.6" fill="#bf5c3c"/>
<rect x="6.40" y="27.6" width="7.80" height="1.2" fill="#bf5c3c"/>
<rect x="7.00" y="29.6" width="6.60" height="12.2" fill="#c04826"/>
<rect x="9.85" y="30.2" width="0.9" height="11.6" fill="#f1cdb2"/>
<rect x="22.80" y="14.6" width="6.60" height="7.4" fill="#c04826"/>
<rect x="25.65" y="15.6" width="0.9" height="6.4" fill="#fbfcef"/>
<rect x="22.00" y="13.6" width="8.20" height="0.9" fill="#bf5c3c"/>
<rect x="21.20" y="22.6" width="9.80" height="1.0" fill="#c04826"/>
<rect x="21.60" y="24.2" width="9.00" height="0.6" fill="#bf5c3c"/>
<rect x="22.20" y="27.6" width="7.80" height="1.2" fill="#bf5c3c"/>
<rect x="22.80" y="29.6" width="6.60" height="12.2" fill="#c04826"/>
<rect x="25.65" y="30.2" width="0.9" height="11.6" fill="#f1cdb2"/>
<rect x="38.30" y="14.6" width="13.40" height="7.4" fill="#c04826"/>
<rect x="42.40" y="15.6" width="0.8" height="6.4" fill="#fbfcef"/>
<rect x="46.80" y="15.6" width="0.8" height="6.4" fill="#fbfcef"/>
<rect x="44.55" y="15.6" width="0.9" height="6.4" fill="#fbfcef"/>
<rect x="37.50" y="13.6" width="15.00" height="0.9" fill="#bf5c3c"/>
<rect x="36.70" y="22.6" width="16.60" height="1.0" fill="#c04826"/>
<rect x="37.10" y="24.2" width="15.80" height="0.6" fill="#bf5c3c"/>
<rect x="37.70" y="27.6" width="14.60" height="1.2" fill="#bf5c3c"/>
<rect x="38.30" y="29.6" width="13.40" height="12.2" fill="#c04826"/>
<rect x="42.40" y="30.2" width="0.8" height="11.6" fill="#e9b79b"/>
<rect x="46.80" y="30.2" width="0.8" height="11.6" fill="#e9b79b"/>
<rect x="44.55" y="30.2" width="0.9" height="11.6" fill="#f1cdb2"/>
<rect x="60.30" y="14.6" width="6.60" height="7.4" fill="#c04826"/>
<rect x="63.15" y="15.6" width="0.9" height="6.4" fill="#fbfcef"/>
<rect x="59.50" y="13.6" width="8.20" height="0.9" fill="#bf5c3c"/>
<rect x="58.70" y="22.6" width="9.80" height="1.0" fill="#c04826"/>
<rect x="59.10" y="24.2" width="9.00" height="0.6" fill="#bf5c3c"/>
<rect x="59.70" y="27.6" width="7.80" height="1.2" fill="#bf5c3c"/>
<rect x="60.30" y="29.6" width="6.60" height="12.2" fill="#c04826"/>
<rect x="63.15" y="30.2" width="0.9" height="11.6" fill="#f1cdb2"/>
<rect x="76.50" y="14.6" width="6.60" height="7.4" fill="#c04826"/>
<rect x="79.35" y="15.6" width="0.9" height="6.4" fill="#fbfcef"/>
<rect x="75.70" y="13.6" width="8.20" height="0.9" fill="#bf5c3c"/>
<rect x="74.90" y="22.6" width="9.80" height="1.0" fill="#c04826"/>
<rect x="75.30" y="24.2" width="9.00" height="0.6" fill="#bf5c3c"/>
<rect x="75.90" y="27.6" width="7.80" height="1.2" fill="#bf5c3c"/>
<rect x="76.50" y="29.6" width="6.60" height="12.2" fill="#c04826"/>
<rect x="79.35" y="30.2" width="0.9" height="11.6" fill="#f1cdb2"/>
<rect x="0" y="41.6" width="90.3" height="1.5" fill="#c04826"/>
</g>
<g transform="translate(150.10,0)">
<path d="M-4.5 499.6V494.8C-4.5 489 4.5 489 4.5 494.8V499.6Z" fill="#c04826"/>
<rect x="-5.3" y="499.4" width="10.6" height="5.8" fill="#fbfcef"/>
<rect x="-5.3" y="500.5" width="10.6" height="1.4" fill="#c04826"/>
<rect x="-5.3" y="503.1" width="10.6" height="2.1" fill="#c04826"/>
<path d="M-4.1 505.2H4.1L7 567.8H-7Z" fill="#c04826"/>
<path d="M-2.3 508H2.3L3 566H-3Z" fill="#e3a888"/>
<ellipse cx="0" cy="513" rx="1.9" ry="2.2" fill="#f1d6bd"/>
<rect x="-1.5" y="517" width="3" height="5" fill="#c04826"/>
<ellipse cx="0" cy="526" rx="1.9" ry="2.2" fill="#f1d6bd"/>
<rect x="-1.5" y="530" width="3" height="5" fill="#c04826"/>
<ellipse cx="0" cy="540" rx="1.9" ry="2.2" fill="#f1d6bd"/>
<rect x="-1.5" y="544" width="3" height="5" fill="#c04826"/>
<ellipse cx="0" cy="553" rx="1.9" ry="2.2" fill="#f1d6bd"/>
<rect x="-1.5" y="557" width="3" height="5" fill="#c04826"/>
<rect x="-8.3" y="567.6" width="16.6" height="3.8" fill="#c04826"/>
<rect x="-21.9" y="571.2" width="43.8" height="4.6" fill="#c04826"/>
<rect x="-21.9" y="575.8" width="43.8" height="2.6" fill="#fbfcef"/>
<rect x="-21.9" y="578.4" width="43.8" height="2.6" fill="#c04826"/>
<rect x="-21.9" y="581" width="43.8" height="2.4" fill="#fbfcef"/>
<path d="M-21.9 583.4H21.9V585.6L20.4 588.6H-20.4L-21.9 585.6Z" fill="#c04826"/>
</g>
<g transform="translate(507.50,0)">
<path d="M-4.5 499.6V494.8C-4.5 489 4.5 489 4.5 494.8V499.6Z" fill="#c04826"/>
<rect x="-5.3" y="499.4" width="10.6" height="5.8" fill="#fbfcef"/>
<rect x="-5.3" y="500.5" width="10.6" height="1.4" fill="#c04826"/>
<rect x="-5.3" y="503.1" width="10.6" height="2.1" fill="#c04826"/>
<path d="M-4.1 505.2H4.1L7 567.8H-7Z" fill="#c04826"/>
<path d="M-2.3 508H2.3L3 566H-3Z" fill="#e3a888"/>
<ellipse cx="0" cy="513" rx="1.9" ry="2.2" fill="#f1d6bd"/>
<rect x="-1.5" y="517" width="3" height="5" fill="#c04826"/>
<ellipse cx="0" cy="526" rx="1.9" ry="2.2" fill="#f1d6bd"/>
<rect x="-1.5" y="530" width="3" height="5" fill="#c04826"/>
<ellipse cx="0" cy="540" rx="1.9" ry="2.2" fill="#f1d6bd"/>
<rect x="-1.5" y="544" width="3" height="5" fill="#c04826"/>
<ellipse cx="0" cy="553" rx="1.9" ry="2.2" fill="#f1d6bd"/>
<rect x="-1.5" y="557" width="3" height="5" fill="#c04826"/>
<rect x="-8.3" y="567.6" width="16.6" height="3.8" fill="#c04826"/>
<rect x="-21.9" y="571.2" width="43.8" height="4.6" fill="#c04826"/>
<rect x="-21.9" y="575.8" width="43.8" height="2.6" fill="#fbfcef"/>
<rect x="-21.9" y="578.4" width="43.8" height="2.6" fill="#c04826"/>
<rect x="-21.9" y="581" width="43.8" height="2.4" fill="#fbfcef"/>
<path d="M-21.9 583.4H21.9V585.6L20.4 588.6H-20.4L-21.9 585.6Z" fill="#c04826"/>
</g>
<g transform="translate(329.20,0)">
<g fill="#fbf4e3" stroke="#b3694a" stroke-width="0.7" stroke-linejoin="round">
<path d="M-1.9 398.6C-1.9 395.6 2.1 395.6 2.1 398.6C2.1 400.6 1.5 402 0.1 402C-1.3 402 -1.9 400.6 -1.9 398.6Z"/>
<path d="M-1.6 402.2L-6.8 405C-9 407 -10.4 412 -11.4 418.6L-9.4 419.6L-8.4 415L-7.8 430L-6.6 445.6H-1.2L-0.4 430L1.2 445.6H6.2L7.8 424L10.8 417.6C11.8 413 10 407.6 7.2 405L1.8 402.2Z"/>
</g>
<g fill="none" stroke="#b3694a" stroke-width="0.6">
<path d="M-0.2 402.4L0 424M-5.6 408L-7.6 430M5 407.6L6.6 416L5.2 424M-11 419L-11.4 443M-3 431L-1.2 445M3 431L2.2 445M-3.4 405.6L0 409.6L3.4 405.6"/>
</g>
<rect x="-9.6" y="446.3" width="19.2" height="3.2" fill="#c04826"/>
<rect x="-12" y="449.5" width="24" height="1.5" fill="#fbfcef"/>
<rect x="-12.6" y="451.3" width="25.2" height="1.9" fill="#c04826"/>
<rect x="-15.4" y="453.4" width="30.8" height="1.1" fill="#bf5c3c"/>
<rect x="-15.6" y="453.4" width="31.2" height="8.9" fill="#f3d9c2"/>
<line x1="-15" y1="455.2" x2="15" y2="455.2" stroke="#bf5c3c" stroke-width="0.6"/>
<line x1="-15" y1="457.0" x2="15" y2="457.0" stroke="#bf5c3c" stroke-width="0.6"/>
<line x1="-15" y1="458.8" x2="15" y2="458.8" stroke="#bf5c3c" stroke-width="0.6"/>
<line x1="-15" y1="460.6" x2="15" y2="460.6" stroke="#bf5c3c" stroke-width="0.6"/>
<rect x="-14.4" y="462.3" width="28.8" height="22" fill="#fbfcef"/>
<rect x="-14.4" y="462.3" width="5.6" height="22" fill="#c04826"/>
<rect x="8.8" y="462.3" width="5.6" height="22" fill="#c04826"/>
<rect x="-14.4" y="472.6" width="5.6" height="2.6" fill="#fbfcef"/>
<rect x="8.8" y="472.6" width="5.6" height="2.6" fill="#fbfcef"/>
<rect x="-7" y="463.6" width="14" height="20.2" rx="2" fill="#f6ead6" stroke="#bf5c3c" stroke-width="0.8"/>
<rect x="-5.4" y="465.4" width="10.8" height="16.6" rx="1.5" fill="none" stroke="#bf5c3c" stroke-width="0.5"/>
<rect x="-16.4" y="485.4" width="32.8" height="2.2" fill="#c04826"/>
<rect x="-17.8" y="487.6" width="35.6" height="3.2" fill="#fbfcef"/>
<rect x="-20.4" y="490.6" width="40.4" height="6.4" fill="#c04826"/>
</g>
<text x="581.3" y="686" font-family="Liberation Sans,sans-serif" font-size="8.6" fill="#c04826" text-anchor="middle">N</text>
<circle cx="581.5" cy="701.3" r="8.6" fill="none" stroke="#c04826" stroke-width="0.8"/>
<path d="M581.5 689.4L586.4 711.2L581.5 706.8L576.6 711.2Z" fill="#c04826"/>
<g id="mainbldg">
<path d="M289.00 281.00 L369.60 281.00 L381.80 291.80 L276.80 291.80 Z" fill="#eec9ae" stroke="none" stroke-width="0.7" stroke-linejoin="round"/>
<line x1="287.19" y1="282.60" x2="371.41" y2="282.60" stroke="#c9704f" stroke-width="0.7"/>
<line x1="285.16" y1="284.40" x2="373.44" y2="284.40" stroke="#c9704f" stroke-width="0.7"/>
<line x1="283.13" y1="286.20" x2="375.47" y2="286.20" stroke="#c9704f" stroke-width="0.7"/>
<line x1="281.09" y1="288.00" x2="377.51" y2="288.00" stroke="#c9704f" stroke-width="0.7"/>
<line x1="279.06" y1="289.80" x2="379.54" y2="289.80" stroke="#c9704f" stroke-width="0.7"/>
<line x1="277.03" y1="291.60" x2="381.57" y2="291.60" stroke="#c9704f" stroke-width="0.7"/>
<rect x="251.00" y="253.00" width="27.00" height="28.20" fill="#fbfcef" />
<rect x="380.60" y="253.00" width="27.00" height="28.20" fill="#fbfcef" />
<line x1="251.20" y1="253" x2="251.20" y2="281" stroke="#bf5c3c" stroke-width="0.7"/>
<line x1="407.40" y1="253" x2="407.40" y2="281" stroke="#bf5c3c" stroke-width="0.7"/>
<line x1="262.30" y1="253" x2="262.30" y2="281" stroke="#bf5c3c" stroke-width="0.7"/>
<line x1="396.30" y1="253" x2="396.30" y2="281" stroke="#bf5c3c" stroke-width="0.7"/>
<line x1="277.00" y1="253" x2="277.00" y2="281" stroke="#bf5c3c" stroke-width="0.7"/>
<line x1="381.60" y1="253" x2="381.60" y2="281" stroke="#bf5c3c" stroke-width="0.7"/>
<path d="M259.50 261.60 L265.00 256.80 L277.60 256.80 L277.60 261.60 Z" fill="url(#vh2)" stroke="#bf5c3c" stroke-width="0.5" stroke-linejoin="round"/>
<path d="M399.10 261.60 L393.60 256.80 L381.00 256.80 L381.00 261.60 Z" fill="url(#vh2)" stroke="#bf5c3c" stroke-width="0.5" stroke-linejoin="round"/>
<rect x="259.50" y="261.40" width="18.10" height="1.00" fill="#c04826" />
<rect x="381.00" y="261.40" width="18.10" height="1.00" fill="#c04826" />
<rect x="251.00" y="281.00" width="38.00" height="5.60" fill="#c04826" />
<rect x="369.60" y="281.00" width="38.00" height="5.60" fill="#c04826" />
<rect x="289.00" y="254.40" width="80.60" height="26.60" fill="#c04826" />
<rect x="292.20" y="256.60" width="11.20" height="1.60" fill="#f0cdb3" />
<rect x="292.20" y="267.00" width="11.20" height="1.40" fill="#f0cdb3" />
<rect x="295.58" y="258.20" width="0.70" height="22.80" fill="#eab99c" />
<rect x="299.32" y="258.20" width="0.70" height="22.80" fill="#eab99c" />
<rect x="292.20" y="274.60" width="11.20" height="0.80" fill="#e5a987" />
<rect x="306.90" y="256.60" width="11.80" height="1.60" fill="#f0cdb3" />
<rect x="306.90" y="267.00" width="11.80" height="1.40" fill="#f0cdb3" />
<rect x="310.48" y="258.20" width="0.70" height="22.80" fill="#eab99c" />
<rect x="314.42" y="258.20" width="0.70" height="22.80" fill="#eab99c" />
<rect x="306.90" y="274.60" width="11.80" height="0.80" fill="#e5a987" />
<rect x="322.20" y="256.60" width="14.20" height="1.60" fill="#f0cdb3" />
<rect x="322.20" y="267.00" width="14.20" height="1.40" fill="#f0cdb3" />
<rect x="325.40" y="258.20" width="0.70" height="22.80" fill="#eab99c" />
<rect x="328.95" y="258.20" width="0.70" height="22.80" fill="#eab99c" />
<rect x="332.50" y="258.20" width="0.70" height="22.80" fill="#eab99c" />
<rect x="322.20" y="274.60" width="14.20" height="0.80" fill="#e5a987" />
<rect x="339.90" y="256.60" width="11.80" height="1.60" fill="#f0cdb3" />
<rect x="339.90" y="267.00" width="11.80" height="1.40" fill="#f0cdb3" />
<rect x="343.48" y="258.20" width="0.70" height="22.80" fill="#eab99c" />
<rect x="347.42" y="258.20" width="0.70" height="22.80" fill="#eab99c" />
<rect x="339.90" y="274.60" width="11.80" height="0.80" fill="#e5a987" />
<rect x="355.20" y="256.60" width="11.20" height="1.60" fill="#f0cdb3" />
<rect x="355.20" y="267.00" width="11.20" height="1.40" fill="#f0cdb3" />
<rect x="358.58" y="258.20" width="0.70" height="22.80" fill="#eab99c" />
<rect x="362.32" y="258.20" width="0.70" height="22.80" fill="#eab99c" />
<rect x="355.20" y="274.60" width="11.20" height="0.80" fill="#e5a987" />
<rect x="276.90" y="254.40" width="2.60" height="26.80" fill="#fbfcef" />
<rect x="276.30" y="279.40" width="3.80" height="2.00" fill="#fbfcef" />
<rect x="379.10" y="254.40" width="2.60" height="26.80" fill="#fbfcef" />
<rect x="378.50" y="279.40" width="3.80" height="2.00" fill="#fbfcef" />
<rect x="288.60" y="254.40" width="2.60" height="26.80" fill="#fbfcef" />
<rect x="288.00" y="279.40" width="3.80" height="2.00" fill="#fbfcef" />
<rect x="367.40" y="254.40" width="2.60" height="26.80" fill="#fbfcef" />
<rect x="366.80" y="279.40" width="3.80" height="2.00" fill="#fbfcef" />
<rect x="303.30" y="254.40" width="2.60" height="26.80" fill="#fbfcef" />
<rect x="302.70" y="279.40" width="3.80" height="2.00" fill="#fbfcef" />
<rect x="352.70" y="254.40" width="2.60" height="26.80" fill="#fbfcef" />
<rect x="352.10" y="279.40" width="3.80" height="2.00" fill="#fbfcef" />
<rect x="318.60" y="254.40" width="2.60" height="26.80" fill="#fbfcef" />
<rect x="318.00" y="279.40" width="3.80" height="2.00" fill="#fbfcef" />
<rect x="337.40" y="254.40" width="2.60" height="26.80" fill="#fbfcef" />
<rect x="336.80" y="279.40" width="3.80" height="2.00" fill="#fbfcef" />
<rect x="279.50" y="254.40" width="9.10" height="26.60" fill="#fbfcef" />
<rect x="370.00" y="254.40" width="9.10" height="26.60" fill="#fbfcef" />
<line x1="284" y1="254.4" x2="284" y2="281" stroke="#bf5c3c" stroke-width="0.5"/>
<line x1="374.60" y1="254.4" x2="374.60" y2="281" stroke="#bf5c3c" stroke-width="0.5"/>
<path d="M287.00 242.40 L371.60 242.40 L384.60 252.20 L274.00 252.20 Z" fill="url(#vh2)" stroke="none" stroke-width="0.7" stroke-linejoin="round"/>
<rect x="273.40" y="251.80" width="111.80" height="2.80" fill="#c04826" />
<path d="M247.80 251.2C257.00 249.6 264.60 245.6 267.40 237.8H274.20L277.60 246V252.6H248.00Z" fill="url(#vh2)"/>
<path d="M247.20 250.6L278.00 251.6V253.6H247.80Z" fill="#c04826"/>
<path d="M267.00 237.2H274.60V238.6H267.00Z" fill="#c04826"/>
<path d="M410.80 251.2C401.60 249.6 394.00 245.6 391.20 237.8H384.40L381.00 246V252.6H410.60Z" fill="url(#vh2)"/>
<path d="M411.40 250.6L380.60 251.6V253.6H410.80Z" fill="#c04826"/>
<path d="M391.60 237.2H384.00V238.6H391.60Z" fill="#c04826"/>
<path d="M276.40 244.20 L288.60 236.20 L289.60 244.20 Z" fill="#fbfcef" stroke="#bf5c3c" stroke-width="0.6" stroke-linejoin="round"/>
<path d="M382.20 244.20 L370.00 236.20 L369.00 244.20 Z" fill="#fbfcef" stroke="#bf5c3c" stroke-width="0.6" stroke-linejoin="round"/>
<rect x="287.60" y="236.00" width="83.40" height="6.60" fill="#f3d5bd" />
<rect x="289.40" y="237.20" width="3.60" height="4.40" fill="#c04826" />
<rect x="295.30" y="237.20" width="3.60" height="4.40" fill="#c04826" />
<rect x="301.20" y="237.20" width="3.60" height="4.40" fill="#c04826" />
<rect x="307.10" y="237.20" width="3.60" height="4.40" fill="#c04826" />
<rect x="313.00" y="237.20" width="3.60" height="4.40" fill="#c04826" />
<rect x="318.90" y="237.20" width="3.60" height="4.40" fill="#c04826" />
<rect x="336.60" y="237.20" width="3.60" height="4.40" fill="#c04826" />
<rect x="342.50" y="237.20" width="3.60" height="4.40" fill="#c04826" />
<rect x="348.40" y="237.20" width="3.60" height="4.40" fill="#c04826" />
<rect x="354.30" y="237.20" width="3.60" height="4.40" fill="#c04826" />
<rect x="360.20" y="237.20" width="3.60" height="4.40" fill="#c04826" />
<rect x="366.10" y="237.20" width="3.60" height="4.40" fill="#c04826" />
<rect x="322.70" y="236.40" width="13.20" height="4.60" fill="#fbfcef" stroke="#bf5c3c" stroke-width="0.6"/>
<text x="329.3" y="240.2" font-family="Liberation Sans,Noto Sans CJK SC,sans-serif" font-size="3.6" fill="#c04826" text-anchor="middle">中山纪念堂</text>
<rect x="286.80" y="233.20" width="85.00" height="3.00" fill="#c04826" />
<rect x="288.40" y="223.20" width="81.80" height="10.20" fill="url(#vh2)" />
<path d="M284.20 230.80 L293.40 226.40 L293.40 230.80 Z" fill="#fbfcef" stroke="#bf5c3c" stroke-width="0.6" stroke-linejoin="round"/>
<path d="M374.40 230.80 L365.20 226.40 L365.20 230.80 Z" fill="#fbfcef" stroke="#bf5c3c" stroke-width="0.6" stroke-linejoin="round"/>
<rect x="288.20" y="214.80" width="82.20" height="8.60" fill="#f5dcc6" />
<rect x="314.60" y="216.00" width="7.20" height="7.20" fill="#c04826" />
<rect x="317.80" y="216.00" width="0.80" height="7.20" fill="#eab99c" />
<rect x="325.70" y="216.00" width="7.20" height="7.20" fill="#c04826" />
<rect x="328.90" y="216.00" width="0.80" height="7.20" fill="#eab99c" />
<rect x="336.80" y="216.00" width="7.20" height="7.20" fill="#c04826" />
<rect x="340.00" y="216.00" width="0.80" height="7.20" fill="#eab99c" />
<rect x="289.60" y="216.60" width="2.60" height="6.60" fill="#c04826" />
<rect x="366.40" y="216.60" width="2.60" height="6.60" fill="#c04826" />
<rect x="293.60" y="216.60" width="2.60" height="6.60" fill="#c04826" />
<rect x="362.40" y="216.60" width="2.60" height="6.60" fill="#c04826" />
<rect x="297.60" y="216.60" width="2.60" height="6.60" fill="#c04826" />
<rect x="358.40" y="216.60" width="2.60" height="6.60" fill="#c04826" />
<rect x="301.60" y="216.60" width="2.60" height="6.60" fill="#c04826" />
<rect x="354.40" y="216.60" width="2.60" height="6.60" fill="#c04826" />
<rect x="305.60" y="216.60" width="2.60" height="6.60" fill="#c04826" />
<rect x="350.40" y="216.60" width="2.60" height="6.60" fill="#c04826" />
<rect x="309.60" y="216.60" width="2.60" height="6.60" fill="#c04826" />
<rect x="346.40" y="216.60" width="2.60" height="6.60" fill="#c04826" />
<rect x="312.20" y="215.20" width="2.00" height="8.20" fill="#fbfcef" />
<rect x="344.40" y="215.20" width="2.00" height="8.20" fill="#fbfcef" />
<rect x="288.20" y="222.80" width="82.20" height="1.00" fill="#c04826" />
<path d="M327.1 188.6C326 190.6 324.4 192 322 193.2C317.6 195.4 314.6 197 312.9 198.6C309 201.4 305 203 300.2 204.1C294 206.4 289 208.2 285.7 209.5C284 210.6 282.6 211.6 281.4 212.6L303.6 209.6H355L377.2 212.6C376 211.6 374.6 210.6 372.9 209.5C369.6 208.2 364.6 206.4 358.4 204.1C353.6 203 349.6 201.4 345.7 198.6C344 197 341 195.4 336.6 193.2C334.2 192 332.6 190.6 331.5 188.6Z" fill="url(#vh2)"/>
<path d="M281.2 211.4L303.6 208.4H355L377.4 211.4L377 213.6L355 210.8H303.6L281.6 213.6Z" fill="#c04826"/>
<path d="M285.60 213.20 L303.60 210.60 L355.00 210.60 L373.00 213.20 L370.60 215.40 L288.00 215.40 Z" fill="#d5805c" stroke="none" stroke-width="0.7" stroke-linejoin="round"/>
<rect x="327.50" y="180.40" width="3.60" height="4.80" fill="#c04826" rx="1"/>
<rect x="328.40" y="185.00" width="1.80" height="4.00" fill="#c04826" />
</g>
<g id="gate">
<rect x="252.90" y="696.60" width="38.60" height="39.60" fill="#fbfcef" />
<path d="M259.50 736.20 V717.30 A13.10 13.10 0 0 1 285.70 717.30 V736.20 Z" fill="#c04826"/>
<path d="M262.60 736.20 V717.30 A10.00 10.00 0 0 1 282.60 717.30 V736.20 Z" fill="#ecd0b3"/>
<rect x="256.60" y="698.00" width="8.20" height="2.80" fill="#c04826" />
<rect x="267.40" y="698.00" width="16.60" height="2.80" fill="#e3a685" />
<rect x="286.00" y="698.00" width="4.60" height="2.80" fill="#c04826" />
<rect x="252.20" y="723.00" width="7.40" height="3.20" fill="#c04826" />
<rect x="285.60" y="723.00" width="5.90" height="3.20" fill="#c04826" />
<rect x="252.20" y="727.40" width="7.60" height="8.80" fill="#fbfcef" />
<path d="M252.90 696.60 L252.90 736.00 Z" fill="none" stroke="#bf5c3c" stroke-width="0.7" stroke-linejoin="round"/>
<path d="M250.80 691.20 L291.50 691.20 L291.50 696.80 L256.20 696.80 Z" fill="#c04826" stroke="none" stroke-width="0.7" stroke-linejoin="round"/>
<path d="M270.2 676.2H291.5V690.4H246.6L245.6 687.4C258 686.6 266.6 682.6 270.2 676.2Z" fill="url(#vh2)" stroke="#bf5c3c" stroke-width="0.6"/>
<path d="M245.4 686.8C247 688.6 249 689.2 252 689.2H291.5V691.4H250C247 691.4 245.6 689.6 245.4 686.8Z" fill="#edc6ad" stroke="#bf5c3c" stroke-width="0.6"/>
<rect x="367.10" y="696.60" width="38.60" height="39.60" fill="#fbfcef" />
<path d="M372.90 736.20 V717.30 A13.10 13.10 0 0 1 399.10 717.30 V736.20 Z" fill="#c04826"/>
<path d="M376.00 736.20 V717.30 A10.00 10.00 0 0 1 396.00 717.30 V736.20 Z" fill="#ecd0b3"/>
<rect x="393.80" y="698.00" width="8.20" height="2.80" fill="#c04826" />
<rect x="374.60" y="698.00" width="16.60" height="2.80" fill="#e3a685" />
<rect x="368.00" y="698.00" width="4.60" height="2.80" fill="#c04826" />
<rect x="399.00" y="723.00" width="7.40" height="3.20" fill="#c04826" />
<rect x="367.10" y="723.00" width="5.90" height="3.20" fill="#c04826" />
<rect x="398.80" y="727.40" width="7.60" height="8.80" fill="#fbfcef" />
<path d="M405.70 696.60 L405.70 736.00 Z" fill="none" stroke="#bf5c3c" stroke-width="0.7" stroke-linejoin="round"/>
<path d="M407.80 691.20 L367.10 691.20 L367.10 696.80 L402.40 696.80 Z" fill="#c04826" stroke="none" stroke-width="0.7" stroke-linejoin="round"/>
<path d="M388.40 676.2H367.10V690.4H412.00L413.00 687.4C400.60 686.6 392.00 682.6 388.40 676.2Z" fill="url(#vh2)" stroke="#bf5c3c" stroke-width="0.6"/>
<path d="M413.20 686.8C411.60 688.6 409.60 689.2 406.60 689.2H367.10V691.4H408.60C411.60 691.4 413.00 689.6 413.20 686.8Z" fill="#edc6ad" stroke="#bf5c3c" stroke-width="0.6"/>
<rect x="291.50" y="675.00" width="75.60" height="61.20" fill="#fbfcef" />
<path d="M307.4 736.2V707.9A21.9 21.9 0 0 1 351.2 707.9V736.2Z" fill="#c04826"/>
<path d="M314.2 736.2V707.9A15.1 15.1 0 0 1 344.4 707.9V736.2Z" fill="#ecd0b3"/>
<rect x="292.40" y="675.60" width="73.80" height="8.20" fill="#c04826" />
<rect x="292.40" y="676.60" width="3.80" height="7.20" fill="#fbfcef" />
<rect x="362.40" y="676.60" width="3.80" height="7.20" fill="#fbfcef" />
<rect x="298.00" y="678.40" width="6.00" height="3.80" fill="#e3a685" />
<rect x="354.60" y="678.40" width="6.00" height="3.80" fill="#e3a685" />
<rect x="305.60" y="678.40" width="5.40" height="3.80" fill="#e3a685" />
<rect x="347.60" y="678.40" width="5.40" height="3.80" fill="#e3a685" />
<rect x="313.60" y="674.60" width="31.40" height="9.40" fill="#fbfcef" stroke="#bf5c3c" stroke-width="0.6"/>
<text x="329.3" y="681.6" font-family="Liberation Serif,Noto Serif CJK SC,serif" font-weight="700" font-size="5.6" fill="#c04826" text-anchor="middle" textLength="27" lengthAdjust="spacingAndGlyphs">堂念纪山中</text>
<rect x="290.80" y="722.60" width="17.40" height="5.00" fill="#c04826" />
<rect x="350.40" y="722.60" width="17.40" height="5.00" fill="#c04826" />
<line x1="291.50" y1="676" x2="291.50" y2="736" stroke="#bf5c3c" stroke-width="0.7"/>
<line x1="367.10" y1="676" x2="367.10" y2="736" stroke="#bf5c3c" stroke-width="0.7"/>
<path d="M287.40 670.40 L371.20 670.40 L366.00 676.00 L292.60 676.00 Z" fill="#c04826" stroke="none" stroke-width="0.7" stroke-linejoin="round"/>
<path d="M298.6 646H360C361.8 656.6 367 663.6 377.2 666.4L376 668.6H282.6L281.4 666.4C291.6 663.6 296.8 656.6 298.6 646Z" fill="url(#vh2)" stroke="#bf5c3c" stroke-width="0.6"/>
<path d="M280.8 665.8C283 667.6 285.6 668 288.6 668H370C373 668 375.6 667.6 377.8 665.8C377.6 669.2 375.6 670.8 372.6 670.8H286C283 670.8 281 669.2 280.8 665.8Z" fill="#edc6ad" stroke="#bf5c3c" stroke-width="0.7"/>
<rect x="298.60" y="645.20" width="61.40" height="1.40" fill="#c04826" />
<line x1="252" y1="736.4" x2="406.6" y2="736.4" stroke="#bf5c3c" stroke-width="1.1"/>
</g>
<text class="c" x="296.60" y="13.53" font-size="9.8" fill="#3e3733" textLength="28.2" lengthAdjust="spacingAndGlyphs" >应元路</text>
<text class="l" x="347.00" y="13.74" font-size="10.8" fill="#574a42" textLength="58.0" lengthAdjust="spacingAndGlyphs" >Yingyuan Lu</text>
<text class="c" x="227.50" y="19.58" font-size="9.4" fill="#3e3733" textLength="27.5" lengthAdjust="spacingAndGlyphs" >西北门</text>
<text class="l" x="227.75" y="29.00" font-size="9" fill="#574a42" textLength="57.0" lengthAdjust="spacingAndGlyphs" >Northwest Gate</text>
<text class="c" x="453.00" y="19.58" font-size="9.4" fill="#3e3733" textLength="18.5" lengthAdjust="spacingAndGlyphs" >北门</text>
<text class="l" x="453.00" y="29.00" font-size="9" fill="#574a42" textLength="40.7" lengthAdjust="spacingAndGlyphs" >North Gate</text>
<text class="c" x="62.60" y="54.18" font-size="9.4" fill="#3e3733" textLength="37.6" lengthAdjust="spacingAndGlyphs" >游客中心</text>
<text class="l" x="62.60" y="63.40" font-size="9" fill="#574a42" textLength="52.2" lengthAdjust="spacingAndGlyphs" >Tourist Center</text>
<text class="c" x="43.80" y="98.38" font-size="9.4" fill="#3e3733" textLength="27.5" lengthAdjust="spacingAndGlyphs" >母婴室</text>
<text class="l" x="43.00" y="108.20" font-size="9" fill="#574a42" textLength="90.0" lengthAdjust="spacingAndGlyphs" >Mother and Child Room</text>
<text class="c" x="83.20" y="134.18" font-size="9.4" fill="#3e3733" textLength="56.8" lengthAdjust="spacingAndGlyphs" >旅游票售票处</text>
<text class="l" x="83.20" y="143.80" font-size="9" fill="#574a42" textLength="79.5" lengthAdjust="spacingAndGlyphs" >Tourism Ticket Office</text>
<text class="c" x="96.00" y="85.38" font-size="9.4" fill="#3e3733" textLength="27.5" lengthAdjust="spacingAndGlyphs" >工艺部</text>
<text class="l" x="96.00" y="94.50" font-size="9" fill="#574a42" textLength="54.0" lengthAdjust="spacingAndGlyphs" >Souvenir Shop</text>
<text class="c" x="155.00" y="85.38" font-size="9.4" fill="#3e3733" textLength="27.5" lengthAdjust="spacingAndGlyphs" >陈列馆</text>
<text class="l" x="155.00" y="94.40" font-size="9" fill="#574a42" textLength="56.5" lengthAdjust="spacingAndGlyphs" >Exhibition Hall</text>
<text class="c" x="265.40" y="153.88" font-size="9.4" fill="#3e3733" textLength="28.0" lengthAdjust="spacingAndGlyphs" >接待室</text>
<text class="l" x="265.00" y="164.00" font-size="9" fill="#574a42" textLength="61.0" lengthAdjust="spacingAndGlyphs" >Reception Room</text>
<text class="c" x="416.00" y="122.38" font-size="9.4" fill="#3e3733" textLength="56.8" lengthAdjust="spacingAndGlyphs" >演出票售票处</text>
<text class="l" x="415.70" y="132.30" font-size="9" fill="#574a42" textLength="68.5" lengthAdjust="spacingAndGlyphs" >Show Ticket Office</text>
<text class="c" x="480.00" y="83.08" font-size="9.4" fill="#3e3733" textLength="28.0" lengthAdjust="spacingAndGlyphs" >木棉王</text>
<text class="l" x="479.75" y="92.70" font-size="9" fill="#574a42" textLength="52.5" lengthAdjust="spacingAndGlyphs" >King of Kapok</text>
<text class="c" x="541.25" y="84.58" font-size="9.4" fill="#3e3733" textLength="38.3" lengthAdjust="spacingAndGlyphs" >管理中心</text>
<text class="l" x="541.00" y="94.70" font-size="9" fill="#574a42" textLength="56.0" lengthAdjust="spacingAndGlyphs" >Administration</text>
<text class="c" x="580.25" y="124.58" font-size="9.4" fill="#3e3733" textLength="28.0" lengthAdjust="spacingAndGlyphs" >树抱树</text>
<text class="l" x="579.75" y="134.00" font-size="9" fill="#574a42" textLength="74.5" lengthAdjust="spacingAndGlyphs" >Tree Embraces Tree</text>
<text class="c" x="599.40" y="171.38" font-size="9.4" fill="#3e3733" textLength="27.4" lengthAdjust="spacingAndGlyphs" >东三门</text>
<text class="l" x="600.40" y="180.70" font-size="9" fill="#574a42" textLength="45.0" lengthAdjust="spacingAndGlyphs" >East Gate III</text>
<text class="c" x="58.30" y="171.28" font-size="9.4" fill="#3e3733" textLength="27.4" lengthAdjust="spacingAndGlyphs" >西三门</text>
<text class="l" x="58.00" y="180.70" font-size="9" fill="#574a42" textLength="47.7" lengthAdjust="spacingAndGlyphs" >West Gate III</text>
<text class="c" x="120.00" y="267.58" font-size="9.4" fill="#3e3733" textLength="28.5" lengthAdjust="spacingAndGlyphs" >西车场</text>
<text class="l" x="120.00" y="277.00" font-size="9" fill="#574a42" textLength="62.5" lengthAdjust="spacingAndGlyphs" >West Parking Lot</text>
<text class="c" x="539.40" y="267.58" font-size="9.4" fill="#3e3733" textLength="28.5" lengthAdjust="spacingAndGlyphs" >东车场</text>
<text class="l" x="539.00" y="277.00" font-size="9" fill="#574a42" textLength="60.7" lengthAdjust="spacingAndGlyphs" >East Parking Lot</text>
<text class="c" x="56.60" y="356.88" font-size="9.4" fill="#3e3733" textLength="28.0" lengthAdjust="spacingAndGlyphs" >西二门</text>
<text class="l" x="56.50" y="366.20" font-size="9" fill="#574a42" textLength="44.5" lengthAdjust="spacingAndGlyphs" >West Gate II</text>
<text class="c" x="605.25" y="356.88" font-size="9.4" fill="#3e3733" textLength="28.0" lengthAdjust="spacingAndGlyphs" >东二门</text>
<text class="l" x="605.25" y="366.20" font-size="9" fill="#574a42" textLength="42.0" lengthAdjust="spacingAndGlyphs" >East Gate II</text>
<text class="c" x="56.60" y="500.38" font-size="9.4" fill="#3e3733" textLength="28.0" lengthAdjust="spacingAndGlyphs" >西一门</text>
<text class="l" x="56.40" y="510.30" font-size="9" fill="#574a42" textLength="41.2" lengthAdjust="spacingAndGlyphs" >West Gate I</text>
<text class="c" x="605.00" y="500.38" font-size="9.4" fill="#3e3733" textLength="28.0" lengthAdjust="spacingAndGlyphs" >东一门</text>
<text class="l" x="605.10" y="510.30" font-size="9" fill="#574a42" textLength="39.3" lengthAdjust="spacingAndGlyphs" >East Gate I</text>
<text class="c" x="329.20" y="307.78" font-size="9.4" fill="#3e3733" textLength="38.0" lengthAdjust="spacingAndGlyphs" >主体建筑</text>
<text class="l" x="329.30" y="318.70" font-size="9" fill="#574a42" textLength="53.0" lengthAdjust="spacingAndGlyphs" >Main Building</text>
<text class="c" x="216.40" y="380.68" font-size="9.4" fill="#3e3733" textLength="17.5" lengthAdjust="spacingAndGlyphs" >白兰</text>
<text class="l" x="216.00" y="390.40" font-size="9" fill="#574a42" textLength="86.6" lengthAdjust="spacingAndGlyphs" >White Jade Orchid Tree</text>
<text class="c" x="442.25" y="380.68" font-size="9.4" fill="#3e3733" textLength="17.5" lengthAdjust="spacingAndGlyphs" >白兰</text>
<text class="l" x="442.25" y="390.40" font-size="9" fill="#574a42" textLength="86.6" lengthAdjust="spacingAndGlyphs" >White Jade Orchid Tree</text>
<text class="c" x="209.20" y="429.68" font-size="9.4" fill="#3e3733" textLength="18.2" lengthAdjust="spacingAndGlyphs" >旗杆</text>
<text class="l" x="209.40" y="438.70" font-size="9" fill="#574a42" textLength="33.7" lengthAdjust="spacingAndGlyphs" >Flag Pole</text>
<text class="c" x="445.90" y="429.68" font-size="9.4" fill="#3e3733" textLength="18.2" lengthAdjust="spacingAndGlyphs" >旗杆</text>
<text class="l" x="445.90" y="438.70" font-size="9" fill="#574a42" textLength="33.7" lengthAdjust="spacingAndGlyphs" >Flag Pole</text>
<text class="c" x="329.40" y="514.08" font-size="9.4" fill="#3e3733" textLength="47.5" lengthAdjust="spacingAndGlyphs" >孙中山铜像</text>
<text class="l" x="329.40" y="523.90" font-size="9" fill="#574a42" textLength="119.0" lengthAdjust="spacingAndGlyphs" >Bronze Statue of Dr. Sun Yat-sen</text>
<text class="c" x="148.70" y="604.58" font-size="9.4" fill="#3e3733" textLength="55.5" lengthAdjust="spacingAndGlyphs" >云鹤华表 (西)</text>
<text class="l" x="150.20" y="614.40" font-size="9" fill="#574a42" textLength="77.0" lengthAdjust="spacingAndGlyphs" >Ornamental column</text>
<text class="l" x="150.00" y="623.60" font-size="9" fill="#574a42" textLength="116.4" lengthAdjust="spacingAndGlyphs" >decorated with reliefs of clouds</text>
<text class="l" x="150.00" y="632.80" font-size="9" fill="#574a42" textLength="65.4" lengthAdjust="spacingAndGlyphs" >and cranes (West)</text>
<text class="c" x="507.40" y="604.58" font-size="9.4" fill="#3e3733" textLength="55.5" lengthAdjust="spacingAndGlyphs" >云鹤华表 (东)</text>
<text class="l" x="507.60" y="614.40" font-size="9" fill="#574a42" textLength="77.0" lengthAdjust="spacingAndGlyphs" >Ornamental column</text>
<text class="l" x="507.30" y="623.60" font-size="9" fill="#574a42" textLength="116.4" lengthAdjust="spacingAndGlyphs" >decorated with reliefs of clouds</text>
<text class="l" x="508.70" y="632.80" font-size="9" fill="#574a42" textLength="64.5" lengthAdjust="spacingAndGlyphs" >and cranes (East)</text>
<text class="c" x="68.30" y="643.68" font-size="9.4" fill="#3e3733" textLength="38.0" lengthAdjust="spacingAndGlyphs" >游龙休憩</text>
<text class="l" x="68.40" y="653.70" font-size="9" fill="#574a42" textLength="64.0" lengthAdjust="spacingAndGlyphs" >Reposing Dragon</text>
<text class="c" x="591.20" y="643.68" font-size="9.4" fill="#3e3733" textLength="28.0" lengthAdjust="spacingAndGlyphs" >树上树</text>
<text class="l" x="591.30" y="653.70" font-size="9" fill="#574a42" textLength="44.6" lengthAdjust="spacingAndGlyphs" >Tree in Tree</text>
<text class="c" x="448.50" y="724.58" font-size="9.4" fill="#3e3733" textLength="27.5" lengthAdjust="spacingAndGlyphs" >南门楼</text>
<text class="l" x="448.20" y="734.50" font-size="9" fill="#574a42" textLength="65.4" lengthAdjust="spacingAndGlyphs" >South Gate Tower</text>
<text class="c" x="281.80" y="759.53" font-size="9.8" fill="#3e3733" textLength="37.3" lengthAdjust="spacingAndGlyphs" >东风中路</text>
<text class="l" x="352.00" y="759.54" font-size="10.8" fill="#574a42" textLength="86.0" lengthAdjust="spacingAndGlyphs" >Dongfeng Zhonglu</text>
<text class="c" x="8.10" y="339.31" font-size="9.2" fill="#3e3733" >连</text>
<text class="c" x="8.10" y="348.71" font-size="9.2" fill="#3e3733" >新</text>
<text class="c" x="8.10" y="358.11" font-size="9.2" fill="#3e3733" >路</text>
<text class="l" style="text-anchor:start" font-size="11" fill="#574a42" transform="translate(4.3,369) rotate(90)" textLength="49.6" lengthAdjust="spacingAndGlyphs">Lianxin Lu</text>
<text class="c" x="650.00" y="341.01" font-size="9.2" fill="#3e3733" >吉</text>
<text class="c" x="650.00" y="350.21" font-size="9.2" fill="#3e3733" >祥</text>
<text class="c" x="650.00" y="359.41" font-size="9.2" fill="#3e3733" >路</text>
<text class="l" style="text-anchor:start" font-size="11" fill="#574a42" transform="translate(646.5,370.4) rotate(90)" textLength="46.4" lengthAdjust="spacingAndGlyphs">Jixiang Lu</text>
</svg>
</body></html>
